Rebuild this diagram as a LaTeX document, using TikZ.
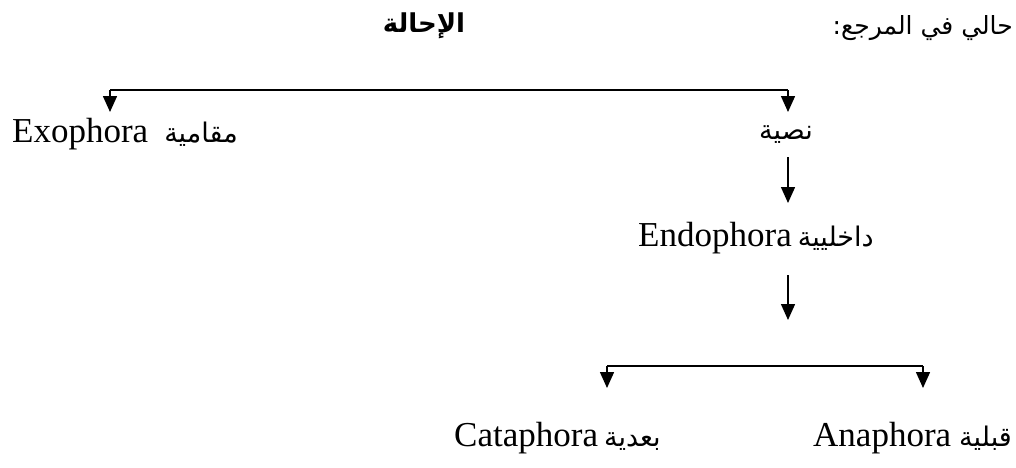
\documentclass[tikz,border=0pt]{standalone}
\usepackage{fontspec}
\setmainfont{Liberation Serif}
\newfontfamily\arfont[Script=Arabic]{DejaVu Sans}
\TeXXeTstate=1
\usetikzlibrary{arrows.meta}
\begin{document}
\begin{tikzpicture}[x=1pt,y=-1pt,
  lbl/.style={inner sep=0pt, font=\fontsize{35}{40}\selectfont},
  arw/.style={line width=1.5pt, -{Triangle[width=14pt,length=16pt]}},
  ln/.style={line width=1.5pt}]
\useasboundingbox (0,0) rectangle (1016,467);
\newcommand\ar[1]{{\arfont\fontsize{27}{30}\selectfont\beginR #1\endR}}
% texts
\node[lbl, anchor=base] (title) at (424,32) {{\arfont\bfseries\fontsize{26}{30}\selectfont\beginR الإحالة\endR}};
\node[lbl, anchor=base east] (note) at (1013,34) {{\arfont\fontsize{25}{28}\selectfont\beginR حالي في المرجع:\endR}};
\node[lbl, anchor=base west] (exo) at (12,142) {Exophora\hspace{16pt}\ar{مقامية}};
\node[lbl, anchor=base] (nas) at (786,139) {\ar{نصية}};
\node[lbl, anchor=base west] (endo) at (638,246) {Endophora\hspace{6pt}\ar{داخليية}};
\node[lbl, anchor=base west] (cata) at (454,446) {Cataphora\hspace{6pt}\ar{بعدية}};
\node[lbl, anchor=base west] (ana) at (813,446) {Anaphora\hspace{8pt}\ar{قبلية}};
% connector points
\coordinate (hL) at (110,90);
\coordinate (hR) at (788,90);
\coordinate (exoT) at (110,112);
\coordinate (nasT) at (788,112);
\coordinate (v1s) at (788,157);
\coordinate (v1e) at (788,203);
\coordinate (v2s) at (788,275);
\coordinate (v2e) at (788,320);
\coordinate (bL) at (607,366);
\coordinate (bR) at (923,366);
\coordinate (cataT) at (607,388);
\coordinate (anaT) at (923,388);
% connectors
\draw[ln] (hL) -- (hR);
\draw[arw] (hL) -- (exoT);
\draw[arw] (hR) -- (nasT);
\draw[arw] (v1s) -- (v1e);
\draw[arw] (v2s) -- (v2e);
\draw[ln] (bL) -- (bR);
\draw[arw] (bL) -- (cataT);
\draw[arw] (bR) -- (anaT);
\end{tikzpicture}
\end{document}
